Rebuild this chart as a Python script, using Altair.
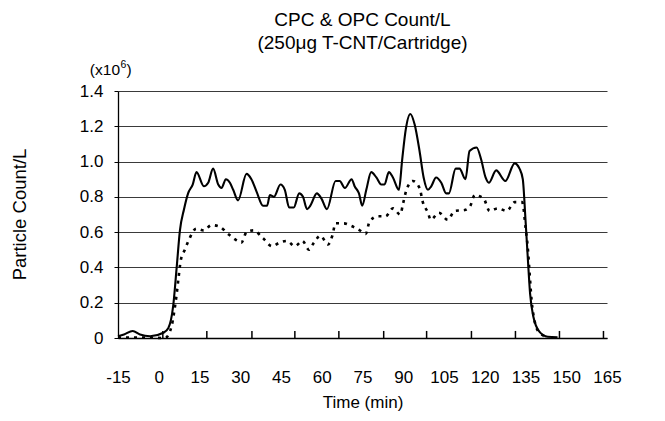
import altair as alt
import pandas as pd

FONT = "Liberation Sans"

# ---- data (time in min, count in 10^6 /L) ----
cpc_time = [-15, -12.8, -9.6, -6.9, -3.2, 1.7, 3.5, 5.3, 6.6, 7.8, 9.3, 10.8, 12.5, 13.9,
            16.6, 18.2, 20.0, 21.9, 23.1, 24.7, 26.2, 27.4, 29.2, 32.3, 34.1, 36.0, 38.4,
            39.9, 40.9, 42.4, 44.8, 46.4, 48.0, 49.7, 51.7, 53.1, 54.6, 55.8, 58.2, 59.9,
            61.9, 65.1, 66.6, 68.5, 71.0, 72.1, 73.7, 74.9, 76.4, 78.2, 80.1, 81.9, 83.1,
            84.7, 86.2, 88.4, 89.6, 90.9, 92.6, 94.2, 96.0, 97.5, 99.1, 100.3, 102.1,
            104.0, 105.8, 106.8, 109.3, 110.7, 112.9, 114.4, 117.0, 118.7, 120.3, 121.5,
            124.2, 127.6, 131.0, 132.8, 134.0, 135.0, 135.9, 136.7, 137.9, 140.1, 143.2,
            146.8]
cpc_value = [0.01, 0.02, 0.04, 0.02, 0.01, 0.03, 0.055, 0.18, 0.40, 0.61, 0.73, 0.82, 0.87,
             0.94, 0.86, 0.88, 0.96, 0.87, 0.85, 0.90, 0.88, 0.84, 0.78, 0.93, 0.90, 0.83,
             0.75, 0.75, 0.81, 0.80, 0.87, 0.84, 0.74, 0.74, 0.82, 0.80, 0.73, 0.75, 0.82,
             0.79, 0.73, 0.89, 0.89, 0.85, 0.90, 0.86, 0.82, 0.75, 0.84, 0.94, 0.91, 0.87,
             0.87, 0.94, 0.91, 0.84, 1.01, 1.18, 1.27, 1.21, 1.06, 0.91, 0.84, 0.86, 0.91,
             0.88, 0.82, 0.82, 0.96, 0.96, 0.90, 1.06, 1.08, 1.01, 0.91, 0.88, 0.95, 0.89,
             0.99, 0.96, 0.90, 0.67, 0.44, 0.25, 0.12, 0.036, 0.007, 0.004]

opc_time = [-15, -8, 2.3, 4.7, 5.6, 6.6, 7.2, 8.1, 9.6, 11.2, 13.8, 16.5, 19.4, 22.5, 25.5,
            28.0, 30.4, 32.3, 34.9, 38.4, 41.7, 44.4, 47.2, 50.1, 52.9, 55.3, 57.1, 59.5,
            62.3, 63.9, 65.1, 68.1, 70.9, 74.0, 76.2, 77.6, 80.7, 83.5, 86.2, 88.9, 89.9,
            91.1, 93.5, 96.0, 97.2, 99.1, 100.1, 103.1, 106.4, 108.9, 112.6, 114.7, 116.3,
            119.6, 121.8, 124.8, 128.1, 131.0, 133.8, 135.0, 135.9, 136.5, 137.2, 138.3,
            140.1, 143.1]
opc_value = [0.003, 0.003, 0.0, 0.065, 0.14, 0.25, 0.33, 0.44, 0.50, 0.56, 0.62, 0.61, 0.64,
             0.63, 0.59, 0.56, 0.54, 0.60, 0.61, 0.565, 0.52, 0.54, 0.55, 0.52, 0.55, 0.50,
             0.54, 0.58, 0.53, 0.58, 0.65, 0.65, 0.635, 0.61, 0.59, 0.66, 0.69, 0.69, 0.735,
             0.70, 0.76, 0.835, 0.89, 0.85, 0.77, 0.71, 0.67, 0.71, 0.67, 0.72, 0.725, 0.75,
             0.81, 0.79, 0.72, 0.735, 0.72, 0.77, 0.77, 0.63, 0.50, 0.37, 0.22, 0.10, 0.03,
             0.005]

x_labels = [-15, 0, 15, 30, 45, 60, 75, 90, 105, 120, 135, 150, 165]
y_labels = [0, 0.2, 0.4, 0.6, 0.8, 1.0, 1.2, 1.4]
x_tick_marks = [1.5, 17.7, 34.3, 50.1, 66.3, 82.8, 98.6, 115.1, 131.3, 147.5, 163.7]

TICK_LEN = 0.04

cpc = pd.DataFrame({"time": cpc_time, "count": cpc_value})
opc = pd.DataFrame({"time": opc_time, "count": opc_value})
ticks = pd.DataFrame({"time": x_tick_marks, "count": [0.0] * len(x_tick_marks),
                      "top": [TICK_LEN] * len(x_tick_marks)})

x_scale = alt.Scale(domain=[-15, 165], nice=False, zero=False, padding=0)
y_scale = alt.Scale(domain=[0, 1.4], nice=False, padding=0)

x_axis = alt.Axis(values=x_labels, title="Time (min)", ticks=False, tickSize=0,
                  grid=False, labelPadding=31, domainColor="black",
                  domainWidth=1.5, labelFontSize=17, titleFontSize=17,
                  titlePadding=9, labelColor="black", titleColor="black",
                  labelFont=FONT, titleFont=FONT, titleFontWeight="normal",
                  labelFlush=False, labelOverlap=False,
                  labelExpr="'' + datum.value")
y_axis = alt.Axis(values=y_labels, grid=True, gridColor="#3a3a3a", gridWidth=1.1,
                  tickColor="black", tickSize=4, labelPadding=11,
                  labelExpr="datum.value == 0 ? '0' : format(datum.value, '.1f')",
                  domainColor="black", domainWidth=1.3, labelOverlap=False,
                  labelFontSize=17, labelColor="black", labelFont=FONT,
                  title="Particle Count/L", titleFont=FONT, titleFontSize=18.5,
                  titleFontWeight="normal", titleColor="black",
                  titleX=-99, titleY=123, titleAngle=270, titleAlign="center",
                  titleBaseline="middle", labelFlush=False)

x_enc = alt.X("time:Q", scale=x_scale, axis=x_axis)
y_enc = alt.Y("count:Q", scale=y_scale, axis=y_axis)

solid = alt.Chart(cpc).mark_line(color="black", strokeWidth=2.1, interpolate="monotone").encode(
    x=x_enc, y=y_enc)
dotted = alt.Chart(opc).mark_line(color="black", strokeWidth=2.6, strokeDash=[3, 5],
                                  interpolate="monotone").encode(x=x_enc, y=y_enc)
# short inward tick marks along the time axis
tick_layer = alt.Chart(ticks).mark_rule(color="black", strokeWidth=1.5).encode(
    x=x_enc, y=y_enc, y2=alt.Y2("top:Q"))

unit_base = alt.Chart(pd.DataFrame({"t": ["(x10"]})).mark_text(
    fontSize=15.5, font=FONT, color="black", align="right", baseline="middle").encode(
    text="t:N", x=alt.value(2), y=alt.value(-21))
unit_sup = alt.Chart(pd.DataFrame({"t": ["6"]})).mark_text(
    fontSize=10.5, font=FONT, color="black", align="left", baseline="middle").encode(
    text="t:N", x=alt.value(2.5), y=alt.value(-26))
unit_end = alt.Chart(pd.DataFrame({"t": [")"]})).mark_text(
    fontSize=15.5, font=FONT, color="black", align="left", baseline="middle").encode(
    text="t:N", x=alt.value(8.5), y=alt.value(-21))

chart = alt.layer(solid, dotted, tick_layer, unit_base, unit_sup, unit_end).properties(
    width=489, height=247,
    autosize=alt.AutoSizeParams(type="none"),
    padding={"left": 110, "top": 83, "right": 50, "bottom": 75},
    title=alt.TitleParams(text=["CPC & OPC Count/L", "(250\u03bcg T-CNT/Cartridge)"],
                          fontSize=19, font=FONT, fontWeight="normal", color="black",
                          anchor="middle", offset=7, lineHeight=23),
    background="white",
).configure_view(strokeWidth=0)

chart.save("out.html", embed_options={"renderer": "svg", "actions": False})
